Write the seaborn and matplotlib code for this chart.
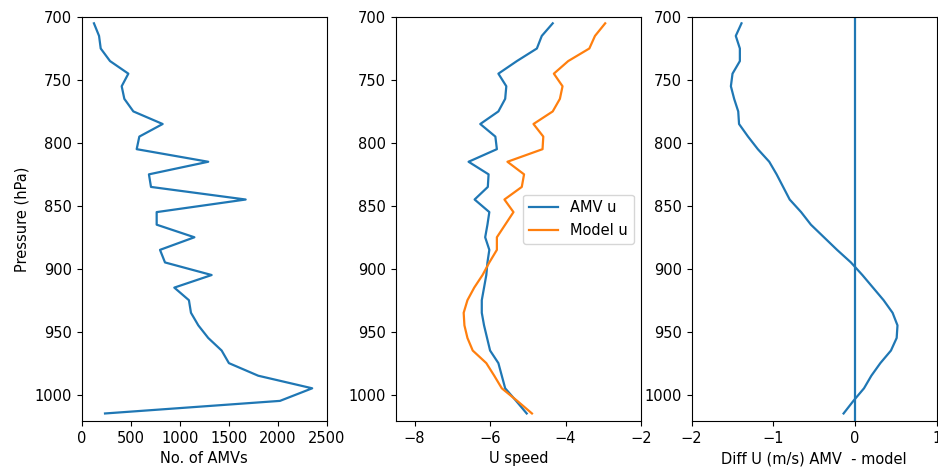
import numpy as np
import pandas as pd
import matplotlib
matplotlib.use("Agg")
import matplotlib.pyplot as plt
import seaborn as sns

pressure = [705, 715, 725, 735, 745, 755, 765, 775, 785, 795, 805, 815, 825, 835, 845, 855,
            865, 875, 885, 895, 905, 915, 925, 935, 945, 955, 965, 975, 985, 995, 1005, 1015]

n_amv = [125, 177, 194, 289, 476, 408, 435, 527, 826, 588, 561, 1291, 686, 707, 1673, 765,
         765, 1150, 799, 850, 1326, 945, 1094, 1115, 1190, 1291, 1428, 1502, 1801, 2352, 2023, 238]

amv_u = [-4.34, -4.63, -4.76, -5.29, -5.78, -5.57, -5.60, -5.78, -6.26, -5.86, -5.82, -6.57,
         -6.04, -6.06, -6.41, -6.02, -6.07, -6.13, -6.02, -6.07, -6.10, -6.16, -6.22, -6.22,
         -6.16, -6.08, -6.00, -5.78, -5.69, -5.60, -5.31, -5.03]

model_u = [-2.95, -3.22, -3.37, -3.93, -4.31, -4.08, -4.15, -4.34, -4.85, -4.59, -4.61, -5.54,
           -5.10, -5.16, -5.62, -5.38, -5.60, -5.82, -5.82, -6.02, -6.20, -6.42, -6.60, -6.70,
           -6.68, -6.60, -6.46, -6.10, -5.89, -5.69, -5.28, -4.89]

diff_u = [-1.39, -1.46, -1.41, -1.41, -1.50, -1.52, -1.48, -1.43, -1.42, -1.31, -1.19, -1.05,
          -0.96, -0.88, -0.80, -0.66, -0.54, -0.38, -0.22, -0.05, 0.09, 0.22, 0.35, 0.46,
          0.52, 0.51, 0.44, 0.31, 0.20, 0.11, -0.02, -0.14]

yticks = [700, 750, 800, 850, 900, 950, 1000]

df = pd.DataFrame({"p": pressure, "n": n_amv, "amv": amv_u, "model": model_u, "diff": diff_u})

plt.rcParams["font.size"] = 10.5
fig = plt.figure(figsize=(9.38, 4.69), dpi=100)
bottom, height = 0.1023, 0.8614
ax1 = fig.add_axes([0.0871, bottom, 0.2612, height])
ax2 = fig.add_axes([0.4219, bottom, 0.2615, height])
ax3 = fig.add_axes([0.7374, bottom, 0.2612, height])

c0, c1 = "#1f77b4", "#ff7f0e"
lw = 1.6

sns.lineplot(data=df, x="n", y="p", orient="y", estimator=None, color=c0, lw=lw, ax=ax1)
sns.lineplot(data=df, x="amv", y="p", orient="y", estimator=None, color=c0, lw=lw, ax=ax2, label="AMV u")
sns.lineplot(data=df, x="model", y="p", orient="y", estimator=None, color=c1, lw=lw, ax=ax2, label="Model u")
sns.lineplot(data=df, x="diff", y="p", orient="y", estimator=None, color=c0, lw=lw, ax=ax3)
ax3.axvline(0, color=c0, lw=lw)

for ax in (ax1, ax2, ax3):
    ax.set_ylim(1021, 700)
    ax.set_yticks(yticks)
    ax.set_ylabel("")

ax1.set_xlim(0, 2500)
ax1.set_xticks([0, 500, 1000, 1500, 2000, 2500])
ax1.set_xlabel("No. of AMVs")
ax1.set_ylabel("Pressure (hPa)")

ax2.set_xlim(-8.5, -2)
ax2.set_xticks([-8, -6, -4, -2])
ax2.set_xlabel("U speed")
ax2.legend(loc="center right", fontsize=10.5)

ax3.set_xlim(-2, 1)
ax3.set_xticks([-2, -1, 0, 1])
ax3.set_xlabel("Diff U (m/s) AMV  - model")

fig.savefig("out.png", dpi=100)
